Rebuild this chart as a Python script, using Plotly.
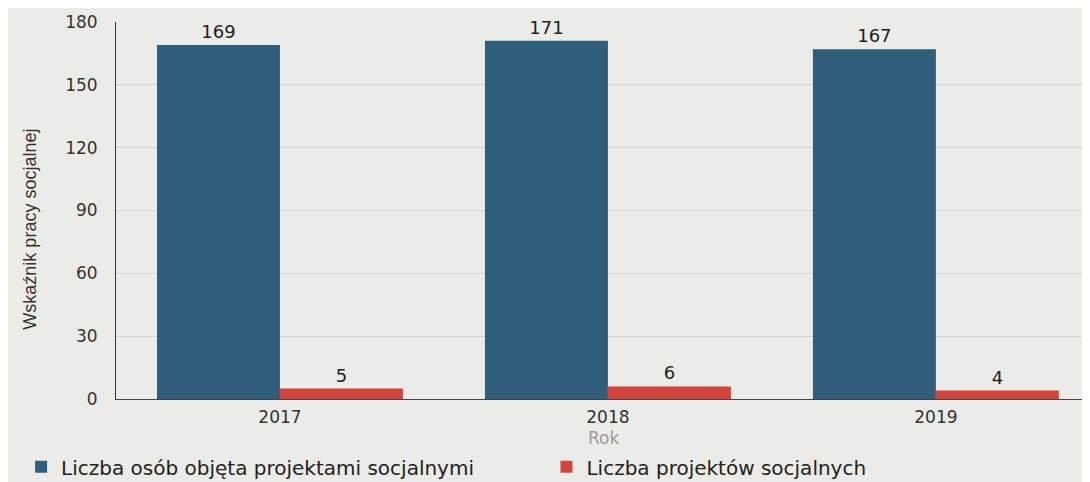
import plotly.graph_objects as go

# dane
lata = ["2017", "2018", "2019"]
osoby = [169, 171, 167]
projekty = [5, 6, 4]

BLUE = "#2f5e7b"
RED = "#d2453d"
BG = "#ebebe7"
FONT = "DejaVu Sans"

fig = go.Figure()
fig.add_trace(go.Bar(
    x=lata, y=osoby, name="Liczba osób objęta projektami socjalnymi",
    marker=dict(color=BLUE, line=dict(width=0)),
    text=osoby, textposition="outside", cliponaxis=False,
    textfont=dict(family=FONT, size=18, color="#222222"),
    legend="legend",
))
fig.add_trace(go.Bar(
    x=lata, y=projekty, name="Liczba projektów socjalnych",
    marker=dict(color=RED, line=dict(width=0)),
    text=projekty, textposition="outside", cliponaxis=False,
    textfont=dict(family=FONT, size=18, color="#222222"),
    legend="legend2",
))

leg = dict(
    orientation="h", xref="container", yref="container",
    y=0.048, xanchor="left", yanchor="middle",
    font=dict(family=FONT, size=20, color="#222222"),
    bgcolor="rgba(0,0,0,0)",
)

# strona ma 8px marginesu body, stąd przesunięcia
fig.update_layout(
    width=1090, height=482,
    barmode="group", bargap=0.25, bargroupgap=0,
    paper_bgcolor=BG, plot_bgcolor=BG,
    margin=dict(l=108, r=8, t=14, b=91, autoexpand=False),
    font=dict(family=FONT, color="#333333", size=15),
    showlegend=True,
    legend=dict(leg, x=0.012),
    legend2=dict(leg, x=0.494),
)
fig.update_xaxes(
    range=[-0.5, 2.47], showgrid=False, automargin=False,
    showline=True, linecolor="#444444", linewidth=1,
    ticks="outside", ticklen=3, tickcolor="rgba(0,0,0,0)",
    tickfont=dict(family=FONT, size=17, color="#333333"),
)
fig.update_yaxes(
    range=[0, 180], dtick=30, showgrid=True, gridcolor="#d6d6d2", gridwidth=1,
    zeroline=False, showline=True, linecolor="#333333", linewidth=1,
    ticks="", ticklabelstandoff=14, automargin=False,
    tickfont=dict(family=FONT, size=17, color="#333333"),
)
fig.add_annotation(
    text="Rok", xref="paper", yref="paper", x=0.5, y=-0.103,
    xanchor="center", yanchor="middle",
    showarrow=False, font=dict(family=FONT, size=17, color="#9a9a9a"),
)
fig.add_annotation(
    text="Wskaźnik pracy socjalnej", xref="paper", yref="paper",
    x=-0.088, y=0.45, xanchor="center", yanchor="middle",
    textangle=-90, showarrow=False,
    font=dict(family="Liberation Sans Narrow, Liberation Sans", size=18, color="#333333"),
)

fig.write_html("out.html")
